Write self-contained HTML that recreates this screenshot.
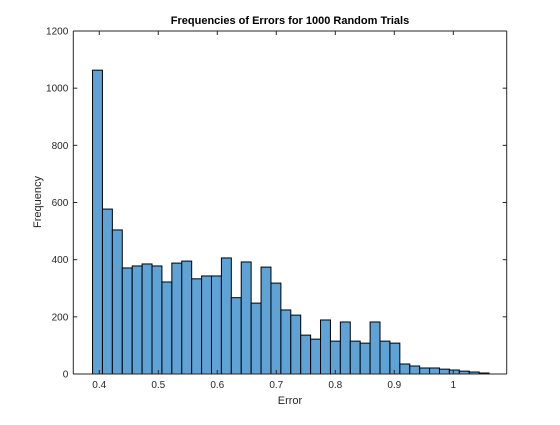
<!DOCTYPE html>
<html><head><meta charset="utf-8"><style>
body{margin:0;background:#fff;}
svg text{font-family:"Liberation Sans",sans-serif;}
</style></head><body>
<svg id="chart" width="560" height="420" xmlns="http://www.w3.org/2000/svg">
<rect width="560" height="420" fill="#fff"/>
<g id="bars"></g>
<g id="axes"></g>
<text x="290" y="24" text-anchor="middle" font-size="11" font-weight="bold" fill="#000">Frequencies of Errors for 1000 Random Trials</text>
<text x="290" y="404" text-anchor="middle" font-size="11" fill="#262626">Error</text>
<text transform="translate(41,202) rotate(-90)" text-anchor="middle" font-size="11" fill="#262626">Frequency</text>
</svg>
<script>
const binStart = 0.3886;
const binWidth = 0.0168;
const counts = [1063,577,504,371,378,385,378,322,388,395,333,343,343,406,267,392,248,374,318,224,206,136,122,189,115,182,115,108,182,115,108,35,28,21,21,17,14,10,7,3.5];
const xTicks = [0.4,0.5,0.6,0.7,0.8,0.9,1];
const xTickLabels = ["0.4","0.5","0.6","0.7","0.8","0.9","1"];
const yTicks = [0,200,400,600,800,1000,1200];
const yTickLabels = ["0","200","400","600","800","1000","1200"];

const L=73.3,R=506.7,T=31,B=374;
const xMin=0.356,xMax=1.0905,yMax=1200;
const xs=v=>L+(v-xMin)/(xMax-xMin)*(R-L);
const ys=v=>B-v/yMax*(B-T);
const NS="http://www.w3.org/2000/svg";
const bars=document.getElementById('bars');
counts.forEach((c,i)=>{
  const r=document.createElementNS(NS,'rect');
  const x0=xs(binStart+i*binWidth),x1=xs(binStart+(i+1)*binWidth);
  r.setAttribute('x',x0);r.setAttribute('width',x1-x0);
  r.setAttribute('y',ys(c));r.setAttribute('height',B-ys(c));
  r.setAttribute('fill','#5fa3d6');r.setAttribute('stroke','#000');r.setAttribute('stroke-width','1');
  
  
  bars.appendChild(r);
});
const ax=document.getElementById('axes');
function line(x1,y1,x2,y2,name){
  const l=document.createElementNS(NS,'line');
  l.setAttribute('x1',x1);l.setAttribute('y1',y1);l.setAttribute('x2',x2);l.setAttribute('y2',y2);
  l.setAttribute('stroke','#262626');l.setAttribute('stroke-width','1');
  
  
  ax.appendChild(l);
}
line(L,T,R,T,'axis-top');line(L,B,R,B,'axis-bottom');line(L,T,L,B,'axis-left');line(R,T,R,B,'axis-right');
function text(x,y,s,anchor,name){
  const t=document.createElementNS(NS,'text');
  t.setAttribute('x',x);t.setAttribute('y',y);t.setAttribute('text-anchor',anchor);
  t.setAttribute('font-size','10');t.setAttribute('fill','#262626');
  t.textContent=s;
  
  
  ax.appendChild(t);
}
xTicks.forEach((v,i)=>{
  const x=xs(v);
  line(x,B,x,B-4,'x-tick');line(x,T,x,T+4,'x-tick');
  text(x,388,xTickLabels[i],'middle','x-tick-label');
});
yTicks.forEach((v,i)=>{
  const y=ys(v);
  line(L,y,L+4,y,'y-tick');line(R,y,R-4,y,'y-tick');
  text(L-5,y+3.5,yTickLabels[i],'end','y-tick-label');
});
</script>
</body></html>
